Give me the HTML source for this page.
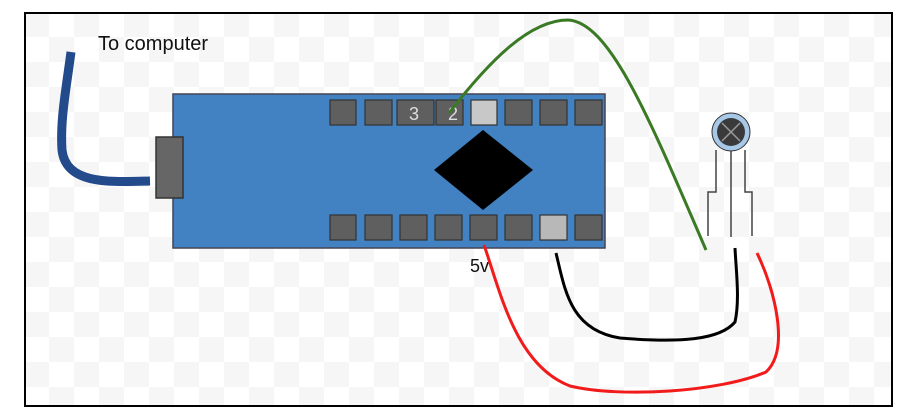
<!DOCTYPE html>
<html><head><style>
body{margin:0;background:#fff;}
</style></head><body>
<svg width="908" height="418" xmlns="http://www.w3.org/2000/svg" style="display:block">
<defs>
<pattern id="ck" x="24" y="12" width="50" height="50" patternUnits="userSpaceOnUse">
<rect width="50" height="50" fill="#fff"/>
<rect width="25" height="25" fill="#f6f6f6"/>
<rect x="25" y="25" width="25" height="25" fill="#f6f6f6"/>
</pattern>
</defs>
<rect width="908" height="418" fill="#fff"/>
<rect x="25" y="13" width="867" height="393" fill="url(#ck)" stroke="#000" stroke-width="2"/>
<text x="98" y="50" font-family="Liberation Sans, sans-serif" font-size="20" fill="#111">To computer</text>
<path d="M71,52 C66,90 60,120 62,150 C66,185 110,182 150,181" fill="none" stroke="#234a8a" stroke-width="9"/>
<rect x="173" y="94" width="432" height="154" fill="#4282c2" stroke="#445" stroke-width="1.5"/>
<rect x="156" y="137" width="27" height="61" fill="#666" stroke="#333" stroke-width="1.5"/>
<g fill="#5f5f5f" stroke="#333" stroke-width="1.2">
<rect x="330" y="100" width="26" height="25"/><rect x="365" y="100" width="27" height="25"/>
<rect x="397" y="100" width="37" height="25"/><rect x="436" y="100" width="27" height="25"/>
<rect x="471" y="100" width="26" height="25" fill="#c8c8c8"/><rect x="505" y="100" width="27" height="25"/>
<rect x="540" y="100" width="27" height="25"/><rect x="575" y="100" width="27" height="25"/>
<rect x="330" y="215" width="26" height="25"/><rect x="365" y="215" width="27" height="25"/>
<rect x="400" y="215" width="27" height="25"/><rect x="435" y="215" width="27" height="25"/>
<rect x="470" y="215" width="27" height="25"/><rect x="505" y="215" width="27" height="25"/>
<rect x="540" y="215" width="27" height="25" fill="#b8b8b8"/><rect x="575" y="215" width="27" height="25"/>
</g>
<text x="409" y="120" font-family="Liberation Sans, sans-serif" font-size="18" fill="#ddd">3</text>
<text x="448" y="120" font-family="Liberation Sans, sans-serif" font-size="18" fill="#ddd">2</text>
<polygon points="483,130 533,170 483,210 434,170" fill="#000"/>
<text x="470" y="272" font-family="Liberation Sans, sans-serif" font-size="18" fill="#111">5v</text>
<path d="M449,113 C490,60 530,20 568,20 C610,22 650,120 706,250" fill="none" stroke="#3a7a25" stroke-width="3"/>
<path d="M484,245 C500,290 515,365 570,386 C620,398 720,392 766,372 C790,350 775,290 757,253" fill="none" stroke="#f21b1b" stroke-width="3"/>
<path d="M556,253 C565,290 570,330 620,338 C680,343 720,340 735,322 C740,300 736,270 735,248" fill="none" stroke="#000" stroke-width="3"/>
<g fill="none" stroke="#444" stroke-width="1.5">
<path d="M731,150 V237"/>
<path d="M716,150 V192 H708 V236"/>
<path d="M745,150 V192 H752 V236"/>
</g>
<circle cx="731" cy="132" r="19" fill="#a8c8e8" stroke="#333" stroke-width="1"/>
<circle cx="731" cy="132" r="14" fill="#3a3a3a"/>
<path d="M722,123 L740,141 M740,123 L722,141" stroke="#999" stroke-width="1.5"/>
</svg>
</body></html>
